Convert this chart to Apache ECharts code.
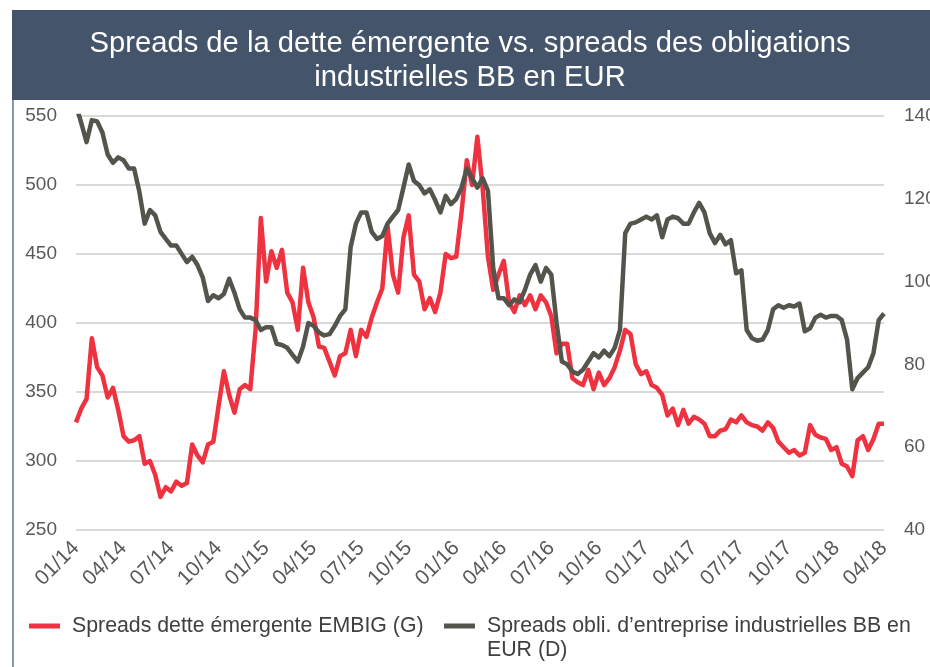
<!DOCTYPE html>
<html>
<head>
<meta charset="utf-8">
<script src="https://cdn.jsdelivr.net/npm/echarts@6/dist/echarts.min.js"></script>
<style>
  html, body { margin: 0; padding: 0; background: #ffffff; }
  #chart { width: 930px; height: 667px; }
</style>
</head>
<body>
<div id="chart"></div>
<script>
// Three observations per month, January 2014 to April 2018
const startYear = 14;
const startMonth = 1;
const monthCount = 52;
const pointsPerMonth = 3;

// Spreads dette émergente EMBIG (left axis, bp)
const embigSpreads = [
  328, 338, 345, 389, 368, 362, 346, 353, 337, 318,
  314, 315, 318, 298, 300, 290, 274, 281, 278, 285,
  282, 284, 312, 304, 299, 312, 314, 340, 365, 348,
  335, 352, 355, 352, 395, 476, 430, 452, 440, 453,
  422, 415, 395, 440, 415, 404, 383, 382, 372, 362,
  376, 378, 395, 376, 395, 390, 404, 415, 425, 470,
  435, 422, 462, 478, 435, 430, 410, 418, 408, 422,
  450, 447, 448, 480, 518, 500, 535, 498, 448, 424,
  435, 445, 415, 408, 420, 413, 420, 410, 420, 415,
  405, 378, 385, 385, 360, 357, 355, 366, 352, 364,
  355, 360, 368, 380, 395, 392, 370, 363, 365, 355,
  353, 348, 333, 338, 326, 337, 327, 332, 330, 327,
  318, 318, 322, 323, 330, 328, 333, 328, 326, 325,
  322, 328, 324, 314, 310, 306, 308, 304, 306, 326,
  319, 317, 316, 308, 310, 298, 296, 289, 315, 318,
  308, 316, 327, 327
];

// Spreads obligations d'entreprise industrielles BB en EUR (right axis, bp)
const bbIndustrialSpreads = [
  142.7, 138.3, 133.7, 139.0, 138.7, 136.0, 130.7, 128.7, 130.0, 129.3,
  127.3, 127.3, 121.7, 114.0, 117.3, 116.0, 112.0, 110.3, 108.7, 108.7,
  106.7, 104.7, 106.0, 104.0, 101.0, 95.3, 96.7, 96.0, 97.0, 100.7,
  97.3, 93.3, 91.3, 91.3, 90.7, 88.3, 89.0, 89.0, 85.0, 84.7,
  84.0, 82.3, 80.7, 84.3, 90.0, 89.3, 87.7, 87.0, 87.3, 89.3,
  91.7, 93.3, 108.3, 114.0, 116.7, 116.7, 112.0, 110.3, 111.0, 114.0,
  115.7, 117.3, 122.7, 128.3, 124.3, 123.3, 121.3, 122.3, 119.7, 116.7,
  120.7, 118.7, 120.0, 122.7, 127.3, 125.0, 122.7, 125.0, 122.0, 103.3,
  96.0, 96.0, 94.3, 95.7, 95.0, 98.0, 101.7, 104.0, 100.0, 103.3,
  101.7, 90.0, 80.7, 80.0, 78.3, 77.7, 78.7, 80.7, 82.7, 81.7,
  83.3, 82.0, 84.0, 88.3, 111.7, 114.0, 114.3, 115.0, 115.7, 115.0,
  116.0, 110.7, 115.0, 115.7, 115.3, 114.0, 114.0, 116.7, 119.0, 116.7,
  111.7, 109.3, 111.3, 109.0, 110.0, 102.0, 102.7, 88.3, 86.3, 85.7,
  86.0, 88.3, 93.3, 94.3, 93.7, 94.3, 94.0, 94.7, 88.0, 88.7,
  91.3, 92.0, 91.3, 91.7, 91.7, 90.7, 86.0, 74.0, 76.7, 78.0,
  79.3, 82.7, 90.7, 92.3
];

const seriesNames = [
  'Spreads dette émergente EMBIG (G)',
  'Spreads obli. d’entreprise industrielles BB en EUR (D)'
];

const titleText = 'Spreads de la dette émergente vs. spreads des obligations\nindustrielles BB en EUR';

// Category labels mm/yy, one per observation; every 9th one (each quarter) is shown
const categories = [];
for (let m = 0; m < monthCount; m++) {
  const month = ((startMonth - 1 + m) % 12) + 1;
  const year = startYear + Math.floor((startMonth - 1 + m) / 12);
  const label = String(month).padStart(2, '0') + '/' + String(year).padStart(2, '0');
  const reps = (m === monthCount - 1) ? 1 : pointsPerMonth;
  for (let k = 0; k < reps; k++) categories.push(label);
}

const RED = '#ee3240';
const GREY = '#53544c';
const LABEL_FONT = 'Liberation Sans, Arial, sans-serif';

const chart = echarts.init(document.getElementById('chart'), null, { renderer: 'canvas' });

chart.setOption({
  backgroundColor: '#ffffff',
  animation: false,
  graphic: [
    {
      type: 'rect',
      z: -10,
      shape: { x: 12, y: 10, width: 918, height: 90 },
      style: { fill: '#44546a' }
    },
    {
      type: 'rect',
      z: -10,
      shape: { x: 12, y: 100, width: 2, height: 567 },
      style: { fill: '#8b9aab' }
    }
  ],
  title: {
    text: titleText,
    left: 465,
    top: 22,
    textAlign: 'center',
    textStyle: {
      color: '#ffffff',
      fontFamily: LABEL_FONT,
      fontWeight: 'normal',
      fontSize: 29.2,
      lineHeight: 34
    }
  },
  legend: [
    {
      data: [{ name: seriesNames[0] }],
      left: 29,
      top: 614,
      icon: 'rect',
      itemWidth: 31,
      itemHeight: 5,
      padding: 0,
      textStyle: {
        color: '#404040',
        fontFamily: LABEL_FONT,
        fontSize: 21.3,
        lineHeight: 24,
        padding: [0, 0, 0, 7]
      }
    },
    {
      data: [{ name: seriesNames[1] }],
      left: 444,
      top: 590,
      icon: 'rect',
      itemWidth: 31,
      itemHeight: 5,
      padding: 0,
      // an empty first line keeps the icon level with the first text line
      formatter: function (name) {
        return '\n' + name.replace(' EUR (D)', '\nEUR (D)');
      },
      textStyle: {
        color: '#404040',
        fontFamily: LABEL_FONT,
        fontSize: 21.3,
        lineHeight: 24,
        padding: [0, 0, 0, 7]
      }
    }
  ],
  grid: {
    left: 76,
    right: 46,
    top: 116,
    bottom: 137,
    containLabel: false,
    outerBoundsMode: 'none'
  },
  xAxis: {
    type: 'category',
    data: categories,
    boundaryGap: false,
    axisLine: { show: false },
    axisTick: { show: false },
    splitLine: { show: false },
    axisLabel: {
      interval: 8,
      rotate: 45,
      margin: 15,
      color: '#595959',
      fontFamily: LABEL_FONT,
      fontSize: 21
    }
  },
  yAxis: [
    {
      type: 'value',
      position: 'left',
      min: 250,
      max: 550,
      interval: 50,
      axisLine: { show: false },
      axisTick: { show: false },
      axisLabel: {
        margin: 19,
        color: '#595959',
        fontFamily: LABEL_FONT,
        fontSize: 19
      },
      splitLine: { show: true, lineStyle: { color: '#d9d9d9', width: 2 } }
    },
    {
      type: 'value',
      position: 'right',
      min: 40,
      max: 140,
      interval: 20,
      axisLine: { show: false },
      axisTick: { show: false },
      axisLabel: {
        margin: 20,
        color: '#595959',
        fontFamily: LABEL_FONT,
        fontSize: 19
      },
      splitLine: { show: false }
    }
  ],
  series: [
    {
      name: seriesNames[0],
      type: 'line',
      yAxisIndex: 0,
      data: embigSpreads,
      showSymbol: false,
      symbol: 'none',
      clip: true,
      lineStyle: { color: RED, width: 4.5, join: 'round' },
      itemStyle: { color: RED }
    },
    {
      name: seriesNames[1],
      type: 'line',
      yAxisIndex: 1,
      data: bbIndustrialSpreads,
      showSymbol: false,
      symbol: 'none',
      clip: true,
      lineStyle: { color: GREY, width: 4.5, join: 'round' },
      itemStyle: { color: GREY }
    }
  ]
});
</script>
</body>
</html>
